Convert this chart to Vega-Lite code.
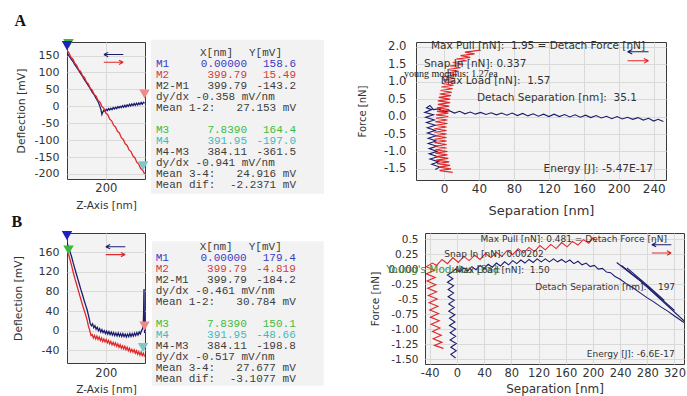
{
"$schema": "https://vega.github.io/schema/vega-lite/v6.json",
"background": "white",
"padding": {"left": 11, "top": 12, "right": 0, "bottom": 0},
"config": {
  "font": "DejaVu Sans",
  "view": {"stroke": "#3a3a3a", "strokeWidth": 1, "fill": "#f3f3f3"},
  "axis": {"domain": false, "ticks": false, "grid": true, "gridColor": "#d9d9d9", "gridWidth": 1, "labelColor": "#333", "titleColor": "#333", "titleFontWeight": "normal", "labelFont": "DejaVu Sans", "titleFont": "DejaVu Sans", "labelOverlap": false, "labelBound": false}
},
"datasets": {
  "defA": [
    {"s":"b","x":0,"y":158},{"s":"b","x":10,"y":150},{"s":"b","x":20,"y":141},{"s":"b","x":30,"y":133},{"s":"b","x":40,"y":123},{"s":"b","x":50,"y":115},{"s":"b","x":60,"y":106},{"s":"b","x":70,"y":97},{"s":"b","x":80,"y":88},{"s":"b","x":90,"y":79},{"s":"b","x":100,"y":70},{"s":"b","x":110,"y":61},{"s":"b","x":120,"y":52},{"s":"b","x":130,"y":42},{"s":"b","x":140,"y":34},{"s":"b","x":150,"y":23},{"s":"b","x":160,"y":14},{"s":"b","x":168,"y":2},{"s":"b","x":175,"y":-10},{"s":"b","x":180,"y":-24},{"s":"b","x":184,"y":-18},{"s":"b","x":190,"y":-12},{"s":"b","x":196,"y":-15},{"s":"b","x":202,"y":-9},{"s":"b","x":208,"y":-13},{"s":"b","x":214,"y":-7},{"s":"b","x":220,"y":-11},{"s":"b","x":226,"y":-6},{"s":"b","x":232,"y":-10},{"s":"b","x":238,"y":-4},{"s":"b","x":244,"y":-8},{"s":"b","x":250,"y":-3},{"s":"b","x":256,"y":-7},{"s":"b","x":262,"y":-1},{"s":"b","x":268,"y":-5},{"s":"b","x":274,"y":0},{"s":"b","x":280,"y":-4},{"s":"b","x":286,"y":2},{"s":"b","x":292,"y":-3},{"s":"b","x":298,"y":3},{"s":"b","x":304,"y":-2},{"s":"b","x":310,"y":4},{"s":"b","x":316,"y":0},{"s":"b","x":322,"y":6},{"s":"b","x":328,"y":1},{"s":"b","x":334,"y":7},{"s":"b","x":340,"y":2},{"s":"b","x":346,"y":8},{"s":"b","x":352,"y":3},{"s":"b","x":358,"y":9},{"s":"b","x":364,"y":4},{"s":"b","x":370,"y":10},{"s":"b","x":376,"y":5},{"s":"b","x":382,"y":11},{"s":"b","x":388,"y":6},{"s":"b","x":394,"y":12},{"s":"b","x":400,"y":9},
    {"s":"r","x":0,"y":165},{"s":"r","x":10,"y":158},{"s":"r","x":20,"y":145},{"s":"r","x":30,"y":140},{"s":"r","x":40,"y":127},{"s":"r","x":50,"y":121},{"s":"r","x":60,"y":108},{"s":"r","x":70,"y":103},{"s":"r","x":80,"y":90},{"s":"r","x":90,"y":85},{"s":"r","x":100,"y":72},{"s":"r","x":110,"y":66},{"s":"r","x":120,"y":53},{"s":"r","x":130,"y":48},{"s":"r","x":140,"y":35},{"s":"r","x":150,"y":30},{"s":"r","x":160,"y":17},{"s":"r","x":170,"y":12},{"s":"r","x":180,"y":-1},{"s":"r","x":190,"y":-6},{"s":"r","x":200,"y":-20},{"s":"r","x":210,"y":-25},{"s":"r","x":220,"y":-38},{"s":"r","x":230,"y":-43},{"s":"r","x":240,"y":-56},{"s":"r","x":250,"y":-61},{"s":"r","x":260,"y":-74},{"s":"r","x":270,"y":-79},{"s":"r","x":280,"y":-93},{"s":"r","x":290,"y":-98},{"s":"r","x":300,"y":-111},{"s":"r","x":310,"y":-116},{"s":"r","x":320,"y":-129},{"s":"r","x":330,"y":-134},{"s":"r","x":340,"y":-147},{"s":"r","x":350,"y":-152},{"s":"r","x":360,"y":-166},{"s":"r","x":370,"y":-171},{"s":"r","x":380,"y":-184},{"s":"r","x":390,"y":-189},{"s":"r","x":400,"y":-200}
  ],
  "defB": [
    {"s":"b","x":0,"y":179},{"s":"b","x":8,"y":170},{"s":"b","x":16,"y":160},{"s":"b","x":24,"y":150},{"s":"b","x":32,"y":138},{"s":"b","x":40,"y":127},{"s":"b","x":48,"y":116},{"s":"b","x":56,"y":105},{"s":"b","x":64,"y":94},{"s":"b","x":72,"y":83},{"s":"b","x":80,"y":73},{"s":"b","x":88,"y":62},{"s":"b","x":96,"y":52},{"s":"b","x":104,"y":42},{"s":"b","x":110,"y":32},{"s":"b","x":116,"y":22},{"s":"b","x":120,"y":14},{"s":"b","x":126,"y":10},{"s":"b","x":132,"y":14},{"s":"b","x":138,"y":6},{"s":"b","x":144,"y":10},{"s":"b","x":150,"y":3},{"s":"b","x":156,"y":7},{"s":"b","x":162,"y":0},{"s":"b","x":168,"y":4},{"s":"b","x":174,"y":-3},{"s":"b","x":180,"y":2},{"s":"b","x":186,"y":-4},{"s":"b","x":192,"y":0},{"s":"b","x":198,"y":-6},{"s":"b","x":204,"y":-1},{"s":"b","x":210,"y":-7},{"s":"b","x":216,"y":-2},{"s":"b","x":222,"y":-8},{"s":"b","x":228,"y":-3},{"s":"b","x":234,"y":-9},{"s":"b","x":240,"y":-4},{"s":"b","x":246,"y":-10},{"s":"b","x":252,"y":-5},{"s":"b","x":258,"y":-11},{"s":"b","x":264,"y":-5},{"s":"b","x":270,"y":-11},{"s":"b","x":276,"y":-6},{"s":"b","x":282,"y":-12},{"s":"b","x":288,"y":-6},{"s":"b","x":294,"y":-12},{"s":"b","x":300,"y":-7},{"s":"b","x":306,"y":-13},{"s":"b","x":312,"y":-7},{"s":"b","x":318,"y":-12},{"s":"b","x":324,"y":-6},{"s":"b","x":330,"y":-12},{"s":"b","x":336,"y":-6},{"s":"b","x":342,"y":-11},{"s":"b","x":348,"y":-5},{"s":"b","x":354,"y":-10},{"s":"b","x":360,"y":-4},{"s":"b","x":366,"y":-9},{"s":"b","x":372,"y":-3},{"s":"b","x":378,"y":-7},{"s":"b","x":384,"y":0},{"s":"b","x":390,"y":4},{"s":"b","x":393,"y":12},{"s":"b","x":395,"y":40},{"s":"b","x":396,"y":70},{"s":"b","x":397,"y":85},{"s":"b","x":398,"y":40},{"s":"b","x":400,"y":-5},
    {"s":"r","x":0,"y":168},{"s":"r","x":8,"y":156},{"s":"r","x":16,"y":144},{"s":"r","x":24,"y":132},{"s":"r","x":32,"y":119},{"s":"r","x":40,"y":107},{"s":"r","x":48,"y":96},{"s":"r","x":56,"y":85},{"s":"r","x":64,"y":74},{"s":"r","x":72,"y":63},{"s":"r","x":80,"y":52},{"s":"r","x":88,"y":42},{"s":"r","x":96,"y":32},{"s":"r","x":104,"y":21},{"s":"r","x":110,"y":10},{"s":"r","x":116,"y":2},{"s":"r","x":120,"y":-4},{"s":"r","x":124,"y":-10},{"s":"r","x":130,"y":-8},{"s":"r","x":136,"y":-15},{"s":"r","x":142,"y":-10},{"s":"r","x":148,"y":-17},{"s":"r","x":154,"y":-11},{"s":"r","x":160,"y":-18},{"s":"r","x":166,"y":-13},{"s":"r","x":172,"y":-20},{"s":"r","x":178,"y":-15},{"s":"r","x":184,"y":-22},{"s":"r","x":190,"y":-17},{"s":"r","x":196,"y":-23},{"s":"r","x":202,"y":-18},{"s":"r","x":208,"y":-25},{"s":"r","x":214,"y":-20},{"s":"r","x":220,"y":-27},{"s":"r","x":226,"y":-22},{"s":"r","x":232,"y":-29},{"s":"r","x":238,"y":-24},{"s":"r","x":244,"y":-30},{"s":"r","x":250,"y":-25},{"s":"r","x":256,"y":-32},{"s":"r","x":262,"y":-27},{"s":"r","x":268,"y":-34},{"s":"r","x":274,"y":-29},{"s":"r","x":280,"y":-36},{"s":"r","x":286,"y":-31},{"s":"r","x":292,"y":-37},{"s":"r","x":298,"y":-32},{"s":"r","x":304,"y":-39},{"s":"r","x":310,"y":-34},{"s":"r","x":316,"y":-41},{"s":"r","x":322,"y":-36},{"s":"r","x":328,"y":-43},{"s":"r","x":334,"y":-38},{"s":"r","x":340,"y":-44},{"s":"r","x":346,"y":-39},{"s":"r","x":352,"y":-46},{"s":"r","x":358,"y":-41},{"s":"r","x":364,"y":-48},{"s":"r","x":370,"y":-43},{"s":"r","x":376,"y":-50},{"s":"r","x":382,"y":-44},{"s":"r","x":388,"y":-51},{"s":"r","x":394,"y":-46},{"s":"r","x":400,"y":-53}
  ],
  "mkA": [
    {"m":"M3","x":7.839,"y":164.4},{"m":"M4","x":391.95,"y":-197.0},{"m":"M2","x":399.79,"y":15.49},{"m":"M1","x":0,"y":158.6}
  ],
  "mkB": [
    {"m":"M3","x":7.839,"y":150.1},{"m":"M4","x":391.95,"y":-48.66},{"m":"M2","x":399.79,"y":-4.819},{"m":"M1","x":0,"y":179.4}
  ],
  "tabA": [
    {"line":0,"kind":"head","label":"","xv":"X[nm]","yv":"Y[mV]"},
    {"line":1,"kind":"M1","label":"M1","xv":"0.00000","yv":"158.6"},
    {"line":2,"kind":"M2","label":"M2","xv":"399.79","yv":"15.49"},
    {"line":3,"kind":"other","label":"M2-M1","xv":"399.79","yv":"-143.2"},
    {"line":4,"kind":"other","label":"dy/dx -0.358 mV/nm","xv":"","yv":""},
    {"line":5,"kind":"other","label":"Mean 1-2:","xv":"","yv":"27.153 mV"},
    {"line":7,"kind":"M3","label":"M3","xv":"7.8390","yv":"164.4"},
    {"line":8,"kind":"M4","label":"M4","xv":"391.95","yv":"-197.0"},
    {"line":9,"kind":"other","label":"M4-M3","xv":"384.11","yv":"-361.5"},
    {"line":10,"kind":"other","label":"dy/dx -0.941 mV/nm","xv":"","yv":""},
    {"line":11,"kind":"other","label":"Mean 3-4:","xv":"","yv":"24.916 mV"},
    {"line":12,"kind":"other","label":"Mean dif:","xv":"","yv":"-2.2371 mV"}
  ],
  "tabB": [
    {"line":0,"kind":"head","label":"","xv":"X[nm]","yv":"Y[mV]"},
    {"line":1,"kind":"M1","label":"M1","xv":"0.00000","yv":"179.4"},
    {"line":2,"kind":"M2","label":"M2","xv":"399.79","yv":"-4.819"},
    {"line":3,"kind":"other","label":"M2-M1","xv":"399.79","yv":"-184.2"},
    {"line":4,"kind":"other","label":"dy/dx -0.461 mV/nm","xv":"","yv":""},
    {"line":5,"kind":"other","label":"Mean 1-2:","xv":"","yv":"30.784 mV"},
    {"line":7,"kind":"M3","label":"M3","xv":"7.8390","yv":"150.1"},
    {"line":8,"kind":"M4","label":"M4","xv":"391.95","yv":"-48.66"},
    {"line":9,"kind":"other","label":"M4-M3","xv":"384.11","yv":"-198.8"},
    {"line":10,"kind":"other","label":"dy/dx -0.517 mV/nm","xv":"","yv":""},
    {"line":11,"kind":"other","label":"Mean 3-4:","xv":"","yv":"27.677 mV"},
    {"line":12,"kind":"other","label":"Mean dif:","xv":"","yv":"-3.1077 mV"}
  ],
  "forA": [
    {"s":"b","x":251,"y":-0.14},{"s":"b","x":245,"y":-0.08},{"s":"b","x":240,"y":-0.13},{"s":"b","x":234,"y":-0.05},{"s":"b","x":228,"y":-0.10},{"s":"b","x":222,"y":-0.03},{"s":"b","x":216,"y":-0.08},{"s":"b","x":210,"y":-0.02},{"s":"b","x":204,"y":-0.07},{"s":"b","x":198,"y":0.00},{"s":"b","x":192,"y":-0.06},{"s":"b","x":186,"y":0.01},{"s":"b","x":180,"y":-0.04},{"s":"b","x":174,"y":0.03},{"s":"b","x":168,"y":-0.03},{"s":"b","x":162,"y":0.04},{"s":"b","x":156,"y":-0.02},{"s":"b","x":150,"y":0.05},{"s":"b","x":144,"y":-0.01},{"s":"b","x":138,"y":0.06},{"s":"b","x":132,"y":0.00},{"s":"b","x":126,"y":0.07},{"s":"b","x":120,"y":0.00},{"s":"b","x":114,"y":0.07},{"s":"b","x":108,"y":0.01},{"s":"b","x":102,"y":0.08},{"s":"b","x":96,"y":0.02},{"s":"b","x":90,"y":0.09},{"s":"b","x":84,"y":0.03},{"s":"b","x":78,"y":0.10},{"s":"b","x":72,"y":0.04},{"s":"b","x":66,"y":0.10},{"s":"b","x":60,"y":0.05},{"s":"b","x":54,"y":0.11},{"s":"b","x":48,"y":0.06},{"s":"b","x":42,"y":0.12},{"s":"b","x":36,"y":0.07},{"s":"b","x":30,"y":0.13},{"s":"b","x":24,"y":0.08},{"s":"b","x":18,"y":0.15},{"s":"b","x":12,"y":0.10},{"s":"b","x":6,"y":0.17},{"s":"b","x":0,"y":0.13},{"s":"b","x":-6,"y":0.22},{"s":"b","x":-12,"y":0.20},{"s":"b","x":-16,"y":0.32},{"s":"b","x":-20,"y":0.25},{"s":"b","x":-14,"y":0.20},{"s":"b","x":-22,"y":0.12},{"s":"b","x":-12,"y":0.05},{"s":"b","x":-21,"y":-0.02},{"s":"b","x":-11,"y":-0.10},{"s":"b","x":-20,"y":-0.17},{"s":"b","x":-10,"y":-0.25},{"s":"b","x":-19,"y":-0.32},{"s":"b","x":-10,"y":-0.40},{"s":"b","x":-19,"y":-0.47},{"s":"b","x":-9,"y":-0.55},{"s":"b","x":-18,"y":-0.62},{"s":"b","x":-9,"y":-0.70},{"s":"b","x":-18,"y":-0.77},{"s":"b","x":-8,"y":-0.85},{"s":"b","x":-17,"y":-0.92},{"s":"b","x":-8,"y":-1.00},{"s":"b","x":-17,"y":-1.07},{"s":"b","x":-7,"y":-1.15},{"s":"b","x":-16,"y":-1.22},{"s":"b","x":-6,"y":-1.30},{"s":"b","x":-14,"y":-1.37},{"s":"b","x":-5,"y":-1.45},{"s":"b","x":-10,"y":-1.52},
    {"s":"r","x":10,"y":-1.6},{"s":"r","x":-5,"y":-1.55},{"s":"r","x":8,"y":-1.5},{"s":"r","x":-6,"y":-1.45},{"s":"r","x":7,"y":-1.4},{"s":"r","x":-8,"y":-1.35},{"s":"r","x":6,"y":-1.3},{"s":"r","x":-9,"y":-1.25},{"s":"r","x":5,"y":-1.2},{"s":"r","x":-9,"y":-1.15},{"s":"r","x":4,"y":-1.1},{"s":"r","x":-10,"y":-1.05},{"s":"r","x":4,"y":-1.0},{"s":"r","x":-10,"y":-0.95},{"s":"r","x":3,"y":-0.9},{"s":"r","x":-11,"y":-0.85},{"s":"r","x":3,"y":-0.8},{"s":"r","x":-11,"y":-0.75},{"s":"r","x":3,"y":-0.7},{"s":"r","x":-11,"y":-0.65},{"s":"r","x":3,"y":-0.6},{"s":"r","x":-11,"y":-0.55},{"s":"r","x":3,"y":-0.5},{"s":"r","x":-11,"y":-0.45},{"s":"r","x":3,"y":-0.4},{"s":"r","x":-11,"y":-0.35},{"s":"r","x":3,"y":-0.3},{"s":"r","x":-10,"y":-0.25},{"s":"r","x":4,"y":-0.2},{"s":"r","x":-10,"y":-0.15},{"s":"r","x":4,"y":-0.1},{"s":"r","x":-9,"y":-0.05},{"s":"r","x":5,"y":0.0},{"s":"r","x":-9,"y":0.05},{"s":"r","x":5,"y":0.1},{"s":"r","x":-8,"y":0.15},{"s":"r","x":6,"y":0.2},{"s":"r","x":-8,"y":0.25},{"s":"r","x":6,"y":0.3},{"s":"r","x":-7,"y":0.35},{"s":"r","x":7,"y":0.4},{"s":"r","x":-7,"y":0.45},{"s":"r","x":7,"y":0.5},{"s":"r","x":-6,"y":0.55},{"s":"r","x":8,"y":0.6},{"s":"r","x":-5,"y":0.65},{"s":"r","x":9,"y":0.7},{"s":"r","x":-4,"y":0.75},{"s":"r","x":10,"y":0.8},{"s":"r","x":-3,"y":0.85},{"s":"r","x":11,"y":0.9},{"s":"r","x":-2,"y":0.95},{"s":"r","x":12,"y":1.0},{"s":"r","x":-1,"y":1.05},{"s":"r","x":13,"y":1.1},{"s":"r","x":0,"y":1.15},{"s":"r","x":15,"y":1.2},{"s":"r","x":2,"y":1.25},{"s":"r","x":17,"y":1.3},{"s":"r","x":4,"y":1.35},{"s":"r","x":19,"y":1.4},{"s":"r","x":7,"y":1.45},{"s":"r","x":22,"y":1.5},{"s":"r","x":10,"y":1.55},{"s":"r","x":26,"y":1.6},{"s":"r","x":14,"y":1.65},{"s":"r","x":30,"y":1.7},{"s":"r","x":19,"y":1.75},{"s":"r","x":35,"y":1.8},{"s":"r","x":24,"y":1.85},{"s":"r","x":40,"y":1.9}
  ],
  "forB": [
    {"s":"b","x":-2,"y":-1.48},{"s":"b","x":-9,"y":-1.42},{"s":"b","x":-1,"y":-1.36},{"s":"b","x":-9,"y":-1.30},{"s":"b","x":-1,"y":-1.24},{"s":"b","x":-10,"y":-1.18},{"s":"b","x":-2,"y":-1.12},{"s":"b","x":-10,"y":-1.06},{"s":"b","x":-2,"y":-1.00},{"s":"b","x":-11,"y":-0.94},{"s":"b","x":-3,"y":-0.88},{"s":"b","x":-11,"y":-0.82},{"s":"b","x":-3,"y":-0.76},{"s":"b","x":-12,"y":-0.70},{"s":"b","x":-4,"y":-0.64},{"s":"b","x":-12,"y":-0.58},{"s":"b","x":-4,"y":-0.52},{"s":"b","x":-13,"y":-0.46},{"s":"b","x":-5,"y":-0.40},{"s":"b","x":-13,"y":-0.34},{"s":"b","x":-5,"y":-0.28},{"s":"b","x":-14,"y":-0.22},{"s":"b","x":-6,"y":-0.16},{"s":"b","x":-14,"y":-0.10},{"s":"b","x":-6,"y":-0.04},{"s":"b","x":-2,"y":0.00},{"s":"b","x":4,"y":-0.05},{"s":"b","x":10,"y":0.02},{"s":"b","x":16,"y":-0.03},{"s":"b","x":22,"y":0.04},{"s":"b","x":28,"y":-0.01},{"s":"b","x":34,"y":0.06},{"s":"b","x":40,"y":0.01},{"s":"b","x":46,"y":0.08},{"s":"b","x":52,"y":0.03},{"s":"b","x":58,"y":0.10},{"s":"b","x":64,"y":0.05},{"s":"b","x":70,"y":0.12},{"s":"b","x":76,"y":0.07},{"s":"b","x":82,"y":0.14},{"s":"b","x":88,"y":0.09},{"s":"b","x":94,"y":0.15},{"s":"b","x":100,"y":0.10},{"s":"b","x":106,"y":0.16},{"s":"b","x":112,"y":0.11},{"s":"b","x":118,"y":0.17},{"s":"b","x":124,"y":0.12},{"s":"b","x":130,"y":0.17},{"s":"b","x":136,"y":0.12},{"s":"b","x":142,"y":0.17},{"s":"b","x":148,"y":0.12},{"s":"b","x":154,"y":0.16},{"s":"b","x":160,"y":0.11},{"s":"b","x":166,"y":0.15},{"s":"b","x":172,"y":0.09},{"s":"b","x":178,"y":0.13},{"s":"b","x":184,"y":0.07},{"s":"b","x":190,"y":0.10},{"s":"b","x":196,"y":0.04},{"s":"b","x":202,"y":0.06},{"s":"b","x":208,"y":0.00},{"s":"b","x":214,"y":0.01},{"s":"b","x":220,"y":-0.05},{"s":"b","x":226,"y":-0.06},{"s":"b","x":232,"y":-0.12},{"s":"b","x":240,"y":-0.17},{"s":"b","x":250,"y":-0.25},{"s":"b","x":260,"y":-0.32},{"s":"b","x":270,"y":-0.40},{"s":"b","x":280,"y":-0.48},{"s":"b","x":290,"y":-0.55},{"s":"b","x":300,"y":-0.63},{"s":"b","x":310,"y":-0.70},{"s":"b","x":320,"y":-0.78},{"s":"b","x":334,"y":-0.89},
    {"s":"b2","x":235,"y":0.11},{"s":"b2","x":270,"y":-0.20},{"s":"b2","x":334,"y":-0.86},
    {"s":"b3","x":242,"y":0.06},{"s":"b3","x":276,"y":-0.25},{"s":"b3","x":320,"y":-0.69},
    {"s":"b4","x":250,"y":0.02},{"s":"b4","x":282,"y":-0.29},{"s":"b4","x":305,"y":-0.52},
    {"s":"r","x":-20,"y":-1.32},{"s":"r","x":-33,"y":-1.27},{"s":"r","x":-22,"y":-1.22},{"s":"r","x":-35,"y":-1.16},{"s":"r","x":-23,"y":-1.10},{"s":"r","x":-36,"y":-1.04},{"s":"r","x":-25,"y":-0.98},{"s":"r","x":-38,"y":-0.92},{"s":"r","x":-26,"y":-0.86},{"s":"r","x":-39,"y":-0.80},{"s":"r","x":-27,"y":-0.74},{"s":"r","x":-40,"y":-0.68},{"s":"r","x":-28,"y":-0.62},{"s":"r","x":-41,"y":-0.56},{"s":"r","x":-29,"y":-0.50},{"s":"r","x":-42,"y":-0.44},{"s":"r","x":-30,"y":-0.38},{"s":"r","x":-43,"y":-0.32},{"s":"r","x":-31,"y":-0.26},{"s":"r","x":-44,"y":-0.20},{"s":"r","x":-32,"y":-0.14},{"s":"r","x":-45,"y":-0.08},{"s":"r","x":-33,"y":-0.02},{"s":"r","x":-45,"y":0.04},{"s":"r","x":-36,"y":0.10},{"s":"r","x":-30,"y":0.06},{"s":"r","x":-22,"y":0.16},{"s":"r","x":-14,"y":0.09},{"s":"r","x":-6,"y":0.19},{"s":"r","x":2,"y":0.11},{"s":"r","x":10,"y":0.21},{"s":"r","x":18,"y":0.14},{"s":"r","x":26,"y":0.23},{"s":"r","x":34,"y":0.16},{"s":"r","x":42,"y":0.26},{"s":"r","x":50,"y":0.19},{"s":"r","x":58,"y":0.28},{"s":"r","x":66,"y":0.21},{"s":"r","x":74,"y":0.31},{"s":"r","x":82,"y":0.24},{"s":"r","x":90,"y":0.34},{"s":"r","x":98,"y":0.27},{"s":"r","x":106,"y":0.36},{"s":"r","x":114,"y":0.29},{"s":"r","x":122,"y":0.39},{"s":"r","x":130,"y":0.32},{"s":"r","x":138,"y":0.41},{"s":"r","x":146,"y":0.34},{"s":"r","x":154,"y":0.44},{"s":"r","x":162,"y":0.37},{"s":"r","x":170,"y":0.46},{"s":"r","x":178,"y":0.40},{"s":"r","x":186,"y":0.49},{"s":"r","x":194,"y":0.43},{"s":"r","x":200,"y":0.52},{"s":"r","x":205,"y":0.47}
  ]
},
"spacing": -5,
"vconcat": [
  {
    "title": {"text": "A", "anchor": "start", "frame": "bounds", "font": "Liberation Serif", "fontSize": 16, "fontWeight": "bold", "color": "#111", "offset": 10},
    "bounds": "flush",
    "spacing": 6,
    "hconcat": [
      {
        "width": 78, "height": 137,
        "layer": [
          {"data": {"name": "defA"}, "transform": [{"filter": "datum.s=='b'"}], "mark": {"type": "line", "color": "#1c1c6e", "strokeWidth": 1.3, "clip": true}, "encoding": {
            "x": {"field": "x", "type": "quantitative", "scale": {"domain": [0, 402], "nice": false, "zero": false}, "axis": {"values": [200], "title": "Z-Axis [nm]", "labelFontSize": 11.5, "labelPadding": 3, "titleFontSize": 10.5, "titlePadding": 7}},
            "y": {"field": "y", "type": "quantitative", "scale": {"domain": [-215, 190], "nice": false, "zero": false}, "axis": {"values": [-200, -150, -100, -50, 0, 50, 100, 150], "labelExpr": "''+datum.value", "title": "Deflection [mV]", "labelFontSize": 11, "labelPadding": 8, "titleFontSize": 10.8, "titlePadding": 8}},
            "order": {"value": null}}},
          {"data": {"name": "defA"}, "transform": [{"filter": "datum.s=='r'"}], "mark": {"type": "line", "color": "#e0282a", "strokeWidth": 1.3, "clip": true}, "encoding": {
            "x": {"field": "x", "type": "quantitative", "scale": {"domain": [0, 402], "nice": false, "zero": false}, "axis": {"values": [200], "title": "Z-Axis [nm]", "labelFontSize": 11.5, "labelPadding": 3, "titleFontSize": 10.5, "titlePadding": 7}},
            "y": {"field": "y", "type": "quantitative", "scale": {"domain": [-215, 190], "nice": false, "zero": false}, "axis": {"values": [-200, -150, -100, -50, 0, 50, 100, 150], "labelExpr": "''+datum.value", "title": "Deflection [mV]", "labelFontSize": 11, "labelPadding": 8, "titleFontSize": 10.8, "titlePadding": 8}},
            "order": {"value": null}}},
          {"data": {"name": "mkA"}, "mark": {"type": "point", "shape": "triangle-down", "filled": true, "size": 110, "yOffset": -7, "opacity": 1}, "encoding": {
            "x": {"field": "x", "type": "quantitative", "scale": {"domain": [0, 402], "nice": false, "zero": false}, "axis": {"values": [200], "title": "Z-Axis [nm]", "labelFontSize": 11.5, "labelPadding": 3, "titleFontSize": 10.5, "titlePadding": 7}},
            "y": {"field": "y", "type": "quantitative", "scale": {"domain": [-215, 190], "nice": false, "zero": false}, "axis": {"values": [-200, -150, -100, -50, 0, 50, 100, 150], "labelExpr": "''+datum.value", "title": "Deflection [mV]", "labelFontSize": 11, "labelPadding": 8, "titleFontSize": 10.8, "titlePadding": 8}},
            "fill": {"field": "m", "type": "nominal", "scale": {"domain": ["M1", "M2", "M3", "M4"], "range": ["#1f1fc0", "#f08a8a", "#3cb83c", "#7cc8c8"]}, "legend": null}}},
          {"data": {"values": [{"a": "dA-left"}]}, "mark": {"type": "point", "shape": "M1,0L-1,0M-1,0L-0.55,-0.22M-1,0L-0.55,0.22", "size": 380, "filled": false, "strokeWidth": 1.1, "color": "#1c1c6e", "opacity": 1}, "encoding": {
            "x": {"datum": 240, "type": "quantitative", "scale": {"domain": [0, 402], "nice": false, "zero": false}, "axis": {"values": [200], "title": "Z-Axis [nm]", "labelFontSize": 11.5, "labelPadding": 3, "titleFontSize": 10.5, "titlePadding": 7}},
            "y": {"datum": 153, "type": "quantitative", "scale": {"domain": [-215, 190], "nice": false, "zero": false}, "axis": {"values": [-200, -150, -100, -50, 0, 50, 100, 150], "labelExpr": "''+datum.value", "title": "Deflection [mV]", "labelFontSize": 11, "labelPadding": 8, "titleFontSize": 10.8, "titlePadding": 8}}}},
          {"data": {"values": [{"a": "dA-right"}]}, "mark": {"type": "point", "shape": "M-1,0L1,0M1,0L0.55,-0.22M1,0L0.55,0.22", "size": 380, "filled": false, "strokeWidth": 1.1, "color": "#e0282a", "opacity": 1}, "encoding": {
            "x": {"datum": 240, "type": "quantitative", "scale": {"domain": [0, 402], "nice": false, "zero": false}, "axis": {"values": [200], "title": "Z-Axis [nm]", "labelFontSize": 11.5, "labelPadding": 3, "titleFontSize": 10.5, "titlePadding": 7}},
            "y": {"datum": 130, "type": "quantitative", "scale": {"domain": [-215, 190], "nice": false, "zero": false}, "axis": {"values": [-200, -150, -100, -50, 0, 50, 100, 150], "labelExpr": "''+datum.value", "title": "Deflection [mV]", "labelFontSize": 11, "labelPadding": 8, "titleFontSize": 10.8, "titlePadding": 8}}}}
        ]
      },
      {
        "width": 259, "height": 159.5,
        "view": {"stroke": "transparent", "fill": "white"},
        "layer": [
          {"data": {"values": [{"box": "A"}]}, "mark": {"type": "rect", "fill": "#f2f2f2"}, "encoding": {
            "x": {"datum": -0.714, "type": "quantitative", "scale": {"domain": [-0.714, 36.286], "nice": false, "zero": false}, "axis": null},
            "x2": {"datum": 24},
            "y": {"datum": -1.2, "type": "quantitative", "scale": {"domain": [-1, 13.5], "nice": false, "zero": false, "reverse": true}, "axis": null},
            "y2": {"datum": 12.8}}},
          {"data": {"name": "tabA"}, "transform": [{"filter": "datum.kind!='head'"}], "mark": {"type": "text", "align": "left", "baseline": "middle", "font": "Liberation Mono", "fontSize": 11},
           "encoding": {"x": {"datum": 0, "type": "quantitative", "axis": null}, "y": {"field": "line", "type": "quantitative", "axis": null}, "text": {"field": "label"}, "color": {"field": "kind", "type": "nominal", "scale": {"domain": ["M1", "M2", "M3", "M4", "other", "head"], "range": ["#3a3ac4", "#d23c3c", "#3cbc3c", "#3cbcbc", "#3c3c3c", "#3c3c3c"]}, "legend": null}}},
          {"data": {"name": "tabA"}, "transform": [{"filter": "datum.kind!='head' && datum.xv!=''"}], "mark": {"type": "text", "align": "right", "baseline": "middle", "font": "Liberation Mono", "fontSize": 11},
           "encoding": {"x": {"datum": 13, "type": "quantitative", "axis": null}, "y": {"field": "line", "type": "quantitative", "axis": null}, "text": {"field": "xv"}, "color": {"field": "kind", "type": "nominal", "legend": null}}},
          {"data": {"name": "tabA"}, "transform": [{"filter": "datum.kind!='head' && datum.yv!=''"}], "mark": {"type": "text", "align": "right", "baseline": "middle", "font": "Liberation Mono", "fontSize": 11},
           "encoding": {"x": {"datum": 20, "type": "quantitative", "axis": null}, "y": {"field": "line", "type": "quantitative", "axis": null}, "text": {"field": "yv"}, "color": {"field": "kind", "type": "nominal", "legend": null}}},
          {"data": {"name": "tabA"}, "transform": [{"filter": "datum.kind=='head'"}], "mark": {"type": "text", "align": "right", "baseline": "middle", "font": "Liberation Mono", "fontSize": 11},
           "encoding": {"x": {"datum": 11, "type": "quantitative", "axis": null}, "y": {"field": "line", "type": "quantitative", "axis": null}, "text": {"field": "xv"}, "color": {"field": "kind", "type": "nominal", "legend": null}}},
          {"data": {"name": "tabA"}, "transform": [{"filter": "datum.kind=='head'"}], "mark": {"type": "text", "align": "right", "baseline": "middle", "font": "Liberation Mono", "fontSize": 11},
           "encoding": {"x": {"datum": 18, "type": "quantitative", "axis": null}, "y": {"field": "line", "type": "quantitative", "axis": null}, "text": {"field": "yv"}, "color": {"field": "kind", "type": "nominal", "legend": null}}}
        ]
      },
      {
        "width": 250, "height": 138,
        "layer": [
          {"data": {"name": "forA"}, "transform": [{"filter": "datum.s=='b'"}], "mark": {"type": "line", "color": "#1c1c6e", "strokeWidth": 1.1, "clip": true}, "encoding": {
            "x": {"field": "x", "type": "quantitative", "scale": {"domain": [-32, 254], "nice": false, "zero": false}, "axis": {"values": [0, 40, 80, 120, 160, 200, 240], "labelExpr": "''+datum.value", "title": "Separation [nm]", "labelFontSize": 12, "labelPadding": 3, "titleFontSize": 13, "titlePadding": 10}},
            "y": {"field": "y", "type": "quantitative", "scale": {"domain": [-1.82, 2.14], "nice": false, "zero": false}, "axis": {"values": [-1.5, -1, -0.5, 0, 0.5, 1, 1.5, 2], "labelExpr": "(datum.value<0?'-':'')+format(abs(datum.value),'.1f')", "title": "Force [nN]", "labelFontSize": 11.6, "labelPadding": 10, "titleFontSize": 10, "titlePadding": 16}},
            "order": {"value": null}}},
          {"data": {"name": "forA"}, "transform": [{"filter": "datum.s=='r'"}], "mark": {"type": "line", "color": "#e0282a", "strokeWidth": 1.1, "clip": true}, "encoding": {
            "x": {"field": "x", "type": "quantitative", "scale": {"domain": [-32, 254], "nice": false, "zero": false}, "axis": {"values": [0, 40, 80, 120, 160, 200, 240], "labelExpr": "''+datum.value", "title": "Separation [nm]", "labelFontSize": 12, "labelPadding": 3, "titleFontSize": 13, "titlePadding": 10}},
            "y": {"field": "y", "type": "quantitative", "scale": {"domain": [-1.82, 2.14], "nice": false, "zero": false}, "axis": {"values": [-1.5, -1, -0.5, 0, 0.5, 1, 1.5, 2], "labelExpr": "(datum.value<0?'-':'')+format(abs(datum.value),'.1f')", "title": "Force [nN]", "labelFontSize": 11.6, "labelPadding": 10, "titleFontSize": 10, "titlePadding": 16}},
            "order": {"value": null}}},
          {"data": {"values": [{"t": "Max Pull [nN]:\u00a0 1.95 = Detach Force [nN]"}]}, "mark": {"type": "text", "align": "left", "baseline": "middle", "fontSize": 10.5, "color": "#333"}, "encoding": {
            "x": {"datum": -14.9, "type": "quantitative", "scale": {"domain": [-32, 254], "nice": false, "zero": false}, "axis": {"values": [0, 40, 80, 120, 160, 200, 240], "labelExpr": "''+datum.value", "title": "Separation [nm]", "labelFontSize": 12, "labelPadding": 3, "titleFontSize": 13, "titlePadding": 10}},
            "y": {"datum": 2.03, "type": "quantitative", "scale": {"domain": [-1.82, 2.14], "nice": false, "zero": false}, "axis": {"values": [-1.5, -1, -0.5, 0, 0.5, 1, 1.5, 2], "labelExpr": "(datum.value<0?'-':'')+format(abs(datum.value),'.1f')", "title": "Force [nN]", "labelFontSize": 11.6, "labelPadding": 10, "titleFontSize": 10, "titlePadding": 16}},
            "text": {"field": "t"}}},
          {"data": {"values": [{"t": "Snap In [nN]: 0.337"}]}, "mark": {"type": "text", "align": "left", "baseline": "middle", "fontSize": 10.5, "color": "#333"}, "encoding": {
            "x": {"datum": -22.9, "type": "quantitative", "scale": {"domain": [-32, 254], "nice": false, "zero": false}, "axis": {"values": [0, 40, 80, 120, 160, 200, 240], "labelExpr": "''+datum.value", "title": "Separation [nm]", "labelFontSize": 12, "labelPadding": 3, "titleFontSize": 13, "titlePadding": 10}},
            "y": {"datum": 1.51, "type": "quantitative", "scale": {"domain": [-1.82, 2.14], "nice": false, "zero": false}, "axis": {"values": [-1.5, -1, -0.5, 0, 0.5, 1, 1.5, 2], "labelExpr": "(datum.value<0?'-':'')+format(abs(datum.value),'.1f')", "title": "Force [nN]", "labelFontSize": 11.6, "labelPadding": 10, "titleFontSize": 10, "titlePadding": 16}},
            "text": {"field": "t"}}},
          {"data": {"values": [{"t": "young modulus: 1.27ea"}]}, "mark": {"type": "text", "align": "left", "baseline": "middle", "font": "Liberation Serif", "fontSize": 10, "color": "#222"}, "encoding": {
            "x": {"datum": -45.7, "type": "quantitative", "scale": {"domain": [-32, 254], "nice": false, "zero": false}, "axis": {"values": [0, 40, 80, 120, 160, 200, 240], "labelExpr": "''+datum.value", "title": "Separation [nm]", "labelFontSize": 12, "labelPadding": 3, "titleFontSize": 13, "titlePadding": 10}},
            "y": {"datum": 1.22, "type": "quantitative", "scale": {"domain": [-1.82, 2.14], "nice": false, "zero": false}, "axis": {"values": [-1.5, -1, -0.5, 0, 0.5, 1, 1.5, 2], "labelExpr": "(datum.value<0?'-':'')+format(abs(datum.value),'.1f')", "title": "Force [nN]", "labelFontSize": 11.6, "labelPadding": 10, "titleFontSize": 10, "titlePadding": 16}},
            "text": {"field": "t"}}},
          {"data": {"values": [{"t": "Max Load [nN]:\u00a0 1.57"}]}, "mark": {"type": "text", "align": "left", "baseline": "middle", "fontSize": 10.5, "color": "#333"}, "encoding": {
            "x": {"datum": -3.8, "type": "quantitative", "scale": {"domain": [-32, 254], "nice": false, "zero": false}, "axis": {"values": [0, 40, 80, 120, 160, 200, 240], "labelExpr": "''+datum.value", "title": "Separation [nm]", "labelFontSize": 12, "labelPadding": 3, "titleFontSize": 13, "titlePadding": 10}},
            "y": {"datum": 1.02, "type": "quantitative", "scale": {"domain": [-1.82, 2.14], "nice": false, "zero": false}, "axis": {"values": [-1.5, -1, -0.5, 0, 0.5, 1, 1.5, 2], "labelExpr": "(datum.value<0?'-':'')+format(abs(datum.value),'.1f')", "title": "Force [nN]", "labelFontSize": 11.6, "labelPadding": 10, "titleFontSize": 10, "titlePadding": 16}},
            "text": {"field": "t"}}},
          {"data": {"values": [{"t": "Detach Separation [nm]:\u00a0 35.1"}]}, "mark": {"type": "text", "align": "left", "baseline": "middle", "fontSize": 10.5, "color": "#333"}, "encoding": {
            "x": {"datum": 37.7, "type": "quantitative", "scale": {"domain": [-32, 254], "nice": false, "zero": false}, "axis": {"values": [0, 40, 80, 120, 160, 200, 240], "labelExpr": "''+datum.value", "title": "Separation [nm]", "labelFontSize": 12, "labelPadding": 3, "titleFontSize": 13, "titlePadding": 10}},
            "y": {"datum": 0.53, "type": "quantitative", "scale": {"domain": [-1.82, 2.14], "nice": false, "zero": false}, "axis": {"values": [-1.5, -1, -0.5, 0, 0.5, 1, 1.5, 2], "labelExpr": "(datum.value<0?'-':'')+format(abs(datum.value),'.1f')", "title": "Force [nN]", "labelFontSize": 11.6, "labelPadding": 10, "titleFontSize": 10, "titlePadding": 16}},
            "text": {"field": "t"}}},
          {"data": {"values": [{"t": "Energy [J]: -5.47E-17"}]}, "mark": {"type": "text", "align": "left", "baseline": "middle", "fontSize": 10.5, "color": "#333"}, "encoding": {
            "x": {"datum": 114, "type": "quantitative", "scale": {"domain": [-32, 254], "nice": false, "zero": false}, "axis": {"values": [0, 40, 80, 120, 160, 200, 240], "labelExpr": "''+datum.value", "title": "Separation [nm]", "labelFontSize": 12, "labelPadding": 3, "titleFontSize": 13, "titlePadding": 10}},
            "y": {"datum": -1.51, "type": "quantitative", "scale": {"domain": [-1.82, 2.14], "nice": false, "zero": false}, "axis": {"values": [-1.5, -1, -0.5, 0, 0.5, 1, 1.5, 2], "labelExpr": "(datum.value<0?'-':'')+format(abs(datum.value),'.1f')", "title": "Force [nN]", "labelFontSize": 11.6, "labelPadding": 10, "titleFontSize": 10, "titlePadding": 16}},
            "text": {"field": "t"}}},
          {"data": {"values": [{"a": "fA-left"}]}, "mark": {"type": "point", "shape": "M1,0L-1,0M-1,0L-0.55,-0.22M-1,0L-0.55,0.22", "size": 440, "filled": false, "strokeWidth": 1.1, "color": "#1c1c6e", "opacity": 1}, "encoding": {
            "x": {"datum": 222, "type": "quantitative", "scale": {"domain": [-32, 254], "nice": false, "zero": false}, "axis": {"values": [0, 40, 80, 120, 160, 200, 240], "labelExpr": "''+datum.value", "title": "Separation [nm]", "labelFontSize": 12, "labelPadding": 3, "titleFontSize": 13, "titlePadding": 10}},
            "y": {"datum": 1.86, "type": "quantitative", "scale": {"domain": [-1.82, 2.14], "nice": false, "zero": false}, "axis": {"values": [-1.5, -1, -0.5, 0, 0.5, 1, 1.5, 2], "labelExpr": "(datum.value<0?'-':'')+format(abs(datum.value),'.1f')", "title": "Force [nN]", "labelFontSize": 11.6, "labelPadding": 10, "titleFontSize": 10, "titlePadding": 16}}}},
          {"data": {"values": [{"a": "fA-right"}]}, "mark": {"type": "point", "shape": "M-1,0L1,0M1,0L0.55,-0.22M1,0L0.55,0.22", "size": 440, "filled": false, "strokeWidth": 1.1, "color": "#e0282a", "opacity": 1}, "encoding": {
            "x": {"datum": 222, "type": "quantitative", "scale": {"domain": [-32, 254], "nice": false, "zero": false}, "axis": {"values": [0, 40, 80, 120, 160, 200, 240], "labelExpr": "''+datum.value", "title": "Separation [nm]", "labelFontSize": 12, "labelPadding": 3, "titleFontSize": 13, "titlePadding": 10}},
            "y": {"datum": 1.6, "type": "quantitative", "scale": {"domain": [-1.82, 2.14], "nice": false, "zero": false}, "axis": {"values": [-1.5, -1, -0.5, 0, 0.5, 1, 1.5, 2], "labelExpr": "(datum.value<0?'-':'')+format(abs(datum.value),'.1f')", "title": "Force [nN]", "labelFontSize": 11.6, "labelPadding": 10, "titleFontSize": 10, "titlePadding": 16}}}}
        ]
      }
    ]
  },
  {
    "title": {"text": "B", "anchor": "start", "frame": "bounds", "font": "Liberation Serif", "fontSize": 16, "fontWeight": "bold", "color": "#111", "offset": 1},
    "bounds": "flush",
    "spacing": 6,
    "hconcat": [
      {
        "width": 78, "height": 130,
        "layer": [
          {"data": {"name": "defB"}, "transform": [{"filter": "datum.s=='r'"}], "mark": {"type": "line", "color": "#e0282a", "strokeWidth": 1.3, "clip": true}, "encoding": {
            "x": {"field": "x", "type": "quantitative", "scale": {"domain": [0, 402], "nice": false, "zero": false}, "axis": {"values": [200], "title": "Z-Axis [nm]", "labelFontSize": 11.5, "labelPadding": 4, "titleFontSize": 10.5, "titlePadding": 6}},
            "y": {"field": "y", "type": "quantitative", "scale": {"domain": [-66, 199], "nice": false, "zero": false}, "axis": {"values": [-40, 0, 40, 80, 120, 160], "labelExpr": "''+datum.value", "title": "Deflection [mV]", "labelFontSize": 11, "labelPadding": 8, "titleFontSize": 10.8, "titlePadding": 15}},
            "order": {"value": null}}},
          {"data": {"name": "defB"}, "transform": [{"filter": "datum.s=='b'"}], "mark": {"type": "line", "color": "#1c1c6e", "strokeWidth": 1.3, "clip": true}, "encoding": {
            "x": {"field": "x", "type": "quantitative", "scale": {"domain": [0, 402], "nice": false, "zero": false}, "axis": {"values": [200], "title": "Z-Axis [nm]", "labelFontSize": 11.5, "labelPadding": 4, "titleFontSize": 10.5, "titlePadding": 6}},
            "y": {"field": "y", "type": "quantitative", "scale": {"domain": [-66, 199], "nice": false, "zero": false}, "axis": {"values": [-40, 0, 40, 80, 120, 160], "labelExpr": "''+datum.value", "title": "Deflection [mV]", "labelFontSize": 11, "labelPadding": 8, "titleFontSize": 10.8, "titlePadding": 15}},
            "order": {"value": null}}},
          {"data": {"name": "mkB"}, "mark": {"type": "point", "shape": "triangle-down", "filled": true, "size": 110, "yOffset": -7, "opacity": 1}, "encoding": {
            "x": {"field": "x", "type": "quantitative", "scale": {"domain": [0, 402], "nice": false, "zero": false}, "axis": {"values": [200], "title": "Z-Axis [nm]", "labelFontSize": 11.5, "labelPadding": 4, "titleFontSize": 10.5, "titlePadding": 6}},
            "y": {"field": "y", "type": "quantitative", "scale": {"domain": [-66, 199], "nice": false, "zero": false}, "axis": {"values": [-40, 0, 40, 80, 120, 160], "labelExpr": "''+datum.value", "title": "Deflection [mV]", "labelFontSize": 11, "labelPadding": 8, "titleFontSize": 10.8, "titlePadding": 15}},
            "fill": {"field": "m", "type": "nominal", "scale": {"domain": ["M1", "M2", "M3", "M4"], "range": ["#1f1fc0", "#f08a8a", "#3cb83c", "#7cc8c8"]}, "legend": null}}},
          {"data": {"values": [{"a": "dB-left"}]}, "mark": {"type": "point", "shape": "M1,0L-1,0M-1,0L-0.55,-0.22M-1,0L-0.55,0.22", "size": 380, "filled": false, "strokeWidth": 1.1, "color": "#1c1c6e", "opacity": 1}, "encoding": {
            "x": {"datum": 250, "type": "quantitative", "scale": {"domain": [0, 402], "nice": false, "zero": false}, "axis": {"values": [200], "title": "Z-Axis [nm]", "labelFontSize": 11.5, "labelPadding": 4, "titleFontSize": 10.5, "titlePadding": 6}},
            "y": {"datum": 171, "type": "quantitative", "scale": {"domain": [-66, 199], "nice": false, "zero": false}, "axis": {"values": [-40, 0, 40, 80, 120, 160], "labelExpr": "''+datum.value", "title": "Deflection [mV]", "labelFontSize": 11, "labelPadding": 8, "titleFontSize": 10.8, "titlePadding": 15}}}},
          {"data": {"values": [{"a": "dB-right"}]}, "mark": {"type": "point", "shape": "M-1,0L1,0M1,0L0.55,-0.22M1,0L0.55,0.22", "size": 380, "filled": false, "strokeWidth": 1.1, "color": "#e0282a", "opacity": 1}, "encoding": {
            "x": {"datum": 250, "type": "quantitative", "scale": {"domain": [0, 402], "nice": false, "zero": false}, "axis": {"values": [200], "title": "Z-Axis [nm]", "labelFontSize": 11.5, "labelPadding": 4, "titleFontSize": 10.5, "titlePadding": 6}},
            "y": {"datum": 155, "type": "quantitative", "scale": {"domain": [-66, 199], "nice": false, "zero": false}, "axis": {"values": [-40, 0, 40, 80, 120, 160], "labelExpr": "''+datum.value", "title": "Deflection [mV]", "labelFontSize": 11, "labelPadding": 8, "titleFontSize": 10.8, "titlePadding": 15}}}}
        ]
      },
      {
        "width": 268, "height": 154,
        "view": {"stroke": "transparent", "fill": "white"},
        "layer": [
          {"data": {"values": [{"box": "B"}]}, "mark": {"type": "rect", "fill": "#f2f2f2"}, "encoding": {
            "x": {"datum": -0.53, "type": "quantitative", "scale": {"domain": [-0.67, 37.6], "nice": false, "zero": false}, "axis": null},
            "x2": {"datum": 24},
            "y": {"datum": -0.53, "type": "quantitative", "scale": {"domain": [-1.28, 12.72], "nice": false, "zero": false, "reverse": true}, "axis": null},
            "y2": {"datum": 12.6}}},
          {"data": {"name": "tabB"}, "transform": [{"filter": "datum.kind!='head'"}], "mark": {"type": "text", "align": "left", "baseline": "middle", "font": "Liberation Mono", "fontSize": 11},
           "encoding": {"x": {"datum": 0, "type": "quantitative", "axis": null}, "y": {"field": "line", "type": "quantitative", "axis": null}, "text": {"field": "label"}, "color": {"field": "kind", "type": "nominal", "legend": null}}},
          {"data": {"name": "tabB"}, "transform": [{"filter": "datum.kind!='head' && datum.xv!=''"}], "mark": {"type": "text", "align": "right", "baseline": "middle", "font": "Liberation Mono", "fontSize": 11},
           "encoding": {"x": {"datum": 13, "type": "quantitative", "axis": null}, "y": {"field": "line", "type": "quantitative", "axis": null}, "text": {"field": "xv"}, "color": {"field": "kind", "type": "nominal", "legend": null}}},
          {"data": {"name": "tabB"}, "transform": [{"filter": "datum.kind!='head' && datum.yv!=''"}], "mark": {"type": "text", "align": "right", "baseline": "middle", "font": "Liberation Mono", "fontSize": 11},
           "encoding": {"x": {"datum": 20, "type": "quantitative", "axis": null}, "y": {"field": "line", "type": "quantitative", "axis": null}, "text": {"field": "yv"}, "color": {"field": "kind", "type": "nominal", "legend": null}}},
          {"data": {"name": "tabB"}, "transform": [{"filter": "datum.kind=='head'"}], "mark": {"type": "text", "align": "right", "baseline": "middle", "font": "Liberation Mono", "fontSize": 11},
           "encoding": {"x": {"datum": 11, "type": "quantitative", "axis": null}, "y": {"field": "line", "type": "quantitative", "axis": null}, "text": {"field": "xv"}, "color": {"field": "kind", "type": "nominal", "legend": null}}},
          {"data": {"name": "tabB"}, "transform": [{"filter": "datum.kind=='head'"}], "mark": {"type": "text", "align": "right", "baseline": "middle", "font": "Liberation Mono", "fontSize": 11},
           "encoding": {"x": {"datum": 18, "type": "quantitative", "axis": null}, "y": {"field": "line", "type": "quantitative", "axis": null}, "text": {"field": "yv"}, "color": {"field": "kind", "type": "nominal", "legend": null}}}
        ]
      },
      {
        "width": 259, "height": 131,
        "layer": [
          {"data": {"name": "forB"}, "transform": [{"filter": "datum.s!='r'"}], "mark": {"type": "line", "color": "#1c1c6e", "strokeWidth": 1.1, "clip": true}, "encoding": {
            "x": {"field": "x", "type": "quantitative", "scale": {"domain": [-47, 334], "nice": false, "zero": false}, "axis": {"values": [-40, 0, 40, 80, 120, 160, 200, 240, 280, 320], "labelExpr": "''+datum.value", "title": "Separation [nm]", "labelFontSize": 11.5, "labelPadding": 3, "titleFontSize": 12, "titlePadding": 5}},
            "y": {"field": "y", "type": "quantitative", "scale": {"domain": [-1.58, 0.6], "nice": false, "zero": false}, "axis": {"values": [-1.5, -1.25, -1, -0.75, -0.5, -0.25, 0, 0.25, 0.5], "labelExpr": "datum.value==0.5?'0.5':datum.value==0.25?'0.25':datum.value==0?'0.000':datum.value==-0.25?'-0.25':datum.value==-0.5?'-0.5':datum.value==-0.75?'-0.75':datum.value==-1?'-1.00':datum.value==-1.25?'-1.25':'-1.50'", "title": "Force [nN]", "labelFontSize": 10.5, "labelPadding": 7, "titleFontSize": 10.5, "titlePadding": 7}},
            "detail": {"field": "s"}, "order": {"value": null}}},
          {"data": {"name": "forB"}, "transform": [{"filter": "datum.s=='r'"}], "mark": {"type": "line", "color": "#e0282a", "strokeWidth": 1.1, "clip": true}, "encoding": {
            "x": {"field": "x", "type": "quantitative", "scale": {"domain": [-47, 334], "nice": false, "zero": false}, "axis": {"values": [-40, 0, 40, 80, 120, 160, 200, 240, 280, 320], "labelExpr": "''+datum.value", "title": "Separation [nm]", "labelFontSize": 11.5, "labelPadding": 3, "titleFontSize": 12, "titlePadding": 5}},
            "y": {"field": "y", "type": "quantitative", "scale": {"domain": [-1.58, 0.6], "nice": false, "zero": false}, "axis": {"values": [-1.5, -1.25, -1, -0.75, -0.5, -0.25, 0, 0.25, 0.5], "labelExpr": "datum.value==0.5?'0.5':datum.value==0.25?'0.25':datum.value==0?'0.000':datum.value==-0.25?'-0.25':datum.value==-0.5?'-0.5':datum.value==-0.75?'-0.75':datum.value==-1?'-1.00':datum.value==-1.25?'-1.25':'-1.50'", "title": "Force [nN]", "labelFontSize": 10.5, "labelPadding": 7, "titleFontSize": 10.5, "titlePadding": 7}},
            "order": {"value": null}}},
          {"data": {"values": [{"t": "Max Pull [nN]: 0.481 = Detach Force [nN]"}]}, "mark": {"type": "text", "align": "left", "baseline": "middle", "fontSize": 9, "color": "#333"}, "encoding": {
            "x": {"datum": 34.7, "type": "quantitative", "scale": {"domain": [-47, 334], "nice": false, "zero": false}, "axis": {"values": [-40, 0, 40, 80, 120, 160, 200, 240, 280, 320], "labelExpr": "''+datum.value", "title": "Separation [nm]", "labelFontSize": 11.5, "labelPadding": 3, "titleFontSize": 12, "titlePadding": 5}},
            "y": {"datum": 0.5, "type": "quantitative", "scale": {"domain": [-1.58, 0.6], "nice": false, "zero": false}, "axis": {"values": [-1.5, -1.25, -1, -0.75, -0.5, -0.25, 0, 0.25, 0.5], "labelExpr": "datum.value==0.5?'0.5':datum.value==0.25?'0.25':datum.value==0?'0.000':datum.value==-0.25?'-0.25':datum.value==-0.5?'-0.5':datum.value==-0.75?'-0.75':datum.value==-1?'-1.00':datum.value==-1.25?'-1.25':'-1.50'", "title": "Force [nN]", "labelFontSize": 10.5, "labelPadding": 7, "titleFontSize": 10.5, "titlePadding": 7}},
            "text": {"field": "t"}}},
          {"data": {"values": [{"t": "Snap In [nN]: 0.00202"}]}, "mark": {"type": "text", "align": "left", "baseline": "middle", "fontSize": 9, "color": "#333"}, "encoding": {
            "x": {"datum": -18.5, "type": "quantitative", "scale": {"domain": [-47, 334], "nice": false, "zero": false}, "axis": {"values": [-40, 0, 40, 80, 120, 160, 200, 240, 280, 320], "labelExpr": "''+datum.value", "title": "Separation [nm]", "labelFontSize": 11.5, "labelPadding": 3, "titleFontSize": 12, "titlePadding": 5}},
            "y": {"datum": 0.245, "type": "quantitative", "scale": {"domain": [-1.58, 0.6], "nice": false, "zero": false}, "axis": {"values": [-1.5, -1.25, -1, -0.75, -0.5, -0.25, 0, 0.25, 0.5], "labelExpr": "datum.value==0.5?'0.5':datum.value==0.25?'0.25':datum.value==0?'0.000':datum.value==-0.25?'-0.25':datum.value==-0.5?'-0.5':datum.value==-0.75?'-0.75':datum.value==-1?'-1.00':datum.value==-1.25?'-1.25':'-1.50'", "title": "Force [nN]", "labelFontSize": 10.5, "labelPadding": 7, "titleFontSize": 10.5, "titlePadding": 7}},
            "text": {"field": "t"}}},
          {"data": {"values": [{"t": "Young's Modulus [Pa]:"}]}, "mark": {"type": "text", "align": "left", "baseline": "middle", "fontSize": 10.5, "color": "#4a8a3a"}, "encoding": {
            "x": {"datum": -104, "type": "quantitative", "scale": {"domain": [-47, 334], "nice": false, "zero": false}, "axis": {"values": [-40, 0, 40, 80, 120, 160, 200, 240, 280, 320], "labelExpr": "''+datum.value", "title": "Separation [nm]", "labelFontSize": 11.5, "labelPadding": 3, "titleFontSize": 12, "titlePadding": 5}},
            "y": {"datum": -0.01, "type": "quantitative", "scale": {"domain": [-1.58, 0.6], "nice": false, "zero": false}, "axis": {"values": [-1.5, -1.25, -1, -0.75, -0.5, -0.25, 0, 0.25, 0.5], "labelExpr": "datum.value==0.5?'0.5':datum.value==0.25?'0.25':datum.value==0?'0.000':datum.value==-0.25?'-0.25':datum.value==-0.5?'-0.5':datum.value==-0.75?'-0.75':datum.value==-1?'-1.00':datum.value==-1.25?'-1.25':'-1.50'", "title": "Force [nN]", "labelFontSize": 10.5, "labelPadding": 7, "titleFontSize": 10.5, "titlePadding": 7}},
            "text": {"field": "t"}}},
          {"data": {"values": [{"t": "Max Load [nN]:\u00a0 1.50"}]}, "mark": {"type": "text", "align": "left", "baseline": "middle", "fontSize": 9, "color": "#333"}, "encoding": {
            "x": {"datum": -2, "type": "quantitative", "scale": {"domain": [-47, 334], "nice": false, "zero": false}, "axis": {"values": [-40, 0, 40, 80, 120, 160, 200, 240, 280, 320], "labelExpr": "''+datum.value", "title": "Separation [nm]", "labelFontSize": 11.5, "labelPadding": 3, "titleFontSize": 12, "titlePadding": 5}},
            "y": {"datum": -0.01, "type": "quantitative", "scale": {"domain": [-1.58, 0.6], "nice": false, "zero": false}, "axis": {"values": [-1.5, -1.25, -1, -0.75, -0.5, -0.25, 0, 0.25, 0.5], "labelExpr": "datum.value==0.5?'0.5':datum.value==0.25?'0.25':datum.value==0?'0.000':datum.value==-0.25?'-0.25':datum.value==-0.5?'-0.5':datum.value==-0.75?'-0.75':datum.value==-1?'-1.00':datum.value==-1.25?'-1.25':'-1.50'", "title": "Force [nN]", "labelFontSize": 10.5, "labelPadding": 7, "titleFontSize": 10.5, "titlePadding": 7}},
            "text": {"field": "t"}}},
          {"data": {"values": [{"t": "Detach Separation [nm]:\u00a0\u00a0\u00a0 197"}]}, "mark": {"type": "text", "align": "left", "baseline": "middle", "fontSize": 9, "color": "#333"}, "encoding": {
            "x": {"datum": 115, "type": "quantitative", "scale": {"domain": [-47, 334], "nice": false, "zero": false}, "axis": {"values": [-40, 0, 40, 80, 120, 160, 200, 240, 280, 320], "labelExpr": "''+datum.value", "title": "Separation [nm]", "labelFontSize": 11.5, "labelPadding": 3, "titleFontSize": 12, "titlePadding": 5}},
            "y": {"datum": -0.3, "type": "quantitative", "scale": {"domain": [-1.58, 0.6], "nice": false, "zero": false}, "axis": {"values": [-1.5, -1.25, -1, -0.75, -0.5, -0.25, 0, 0.25, 0.5], "labelExpr": "datum.value==0.5?'0.5':datum.value==0.25?'0.25':datum.value==0?'0.000':datum.value==-0.25?'-0.25':datum.value==-0.5?'-0.5':datum.value==-0.75?'-0.75':datum.value==-1?'-1.00':datum.value==-1.25?'-1.25':'-1.50'", "title": "Force [nN]", "labelFontSize": 10.5, "labelPadding": 7, "titleFontSize": 10.5, "titlePadding": 7}},
            "text": {"field": "t"}}},
          {"data": {"values": [{"t": "Energy [J]: -6.6E-17"}]}, "mark": {"type": "text", "align": "left", "baseline": "middle", "fontSize": 9, "color": "#333"}, "encoding": {
            "x": {"datum": 191, "type": "quantitative", "scale": {"domain": [-47, 334], "nice": false, "zero": false}, "axis": {"values": [-40, 0, 40, 80, 120, 160, 200, 240, 280, 320], "labelExpr": "''+datum.value", "title": "Separation [nm]", "labelFontSize": 11.5, "labelPadding": 3, "titleFontSize": 12, "titlePadding": 5}},
            "y": {"datum": -1.42, "type": "quantitative", "scale": {"domain": [-1.58, 0.6], "nice": false, "zero": false}, "axis": {"values": [-1.5, -1.25, -1, -0.75, -0.5, -0.25, 0, 0.25, 0.5], "labelExpr": "datum.value==0.5?'0.5':datum.value==0.25?'0.25':datum.value==0?'0.000':datum.value==-0.25?'-0.25':datum.value==-0.5?'-0.5':datum.value==-0.75?'-0.75':datum.value==-1?'-1.00':datum.value==-1.25?'-1.25':'-1.50'", "title": "Force [nN]", "labelFontSize": 10.5, "labelPadding": 7, "titleFontSize": 10.5, "titlePadding": 7}},
            "text": {"field": "t"}}},
          {"data": {"values": [{"a": "fB-left"}]}, "mark": {"type": "point", "shape": "M1,0L-1,0M-1,0L-0.55,-0.22M-1,0L-0.55,0.22", "size": 380, "filled": false, "strokeWidth": 1.1, "color": "#1c1c6e", "opacity": 1}, "encoding": {
            "x": {"datum": 301, "type": "quantitative", "scale": {"domain": [-47, 334], "nice": false, "zero": false}, "axis": {"values": [-40, 0, 40, 80, 120, 160, 200, 240, 280, 320], "labelExpr": "''+datum.value", "title": "Separation [nm]", "labelFontSize": 11.5, "labelPadding": 3, "titleFontSize": 12, "titlePadding": 5}},
            "y": {"datum": 0.405, "type": "quantitative", "scale": {"domain": [-1.58, 0.6], "nice": false, "zero": false}, "axis": {"values": [-1.5, -1.25, -1, -0.75, -0.5, -0.25, 0, 0.25, 0.5], "labelExpr": "datum.value==0.5?'0.5':datum.value==0.25?'0.25':datum.value==0?'0.000':datum.value==-0.25?'-0.25':datum.value==-0.5?'-0.5':datum.value==-0.75?'-0.75':datum.value==-1?'-1.00':datum.value==-1.25?'-1.25':'-1.50'", "title": "Force [nN]", "labelFontSize": 10.5, "labelPadding": 7, "titleFontSize": 10.5, "titlePadding": 7}}}},
          {"data": {"values": [{"a": "fB-right"}]}, "mark": {"type": "point", "shape": "M-1,0L1,0M1,0L0.55,-0.22M1,0L0.55,0.22", "size": 380, "filled": false, "strokeWidth": 1.1, "color": "#e0282a", "opacity": 1}, "encoding": {
            "x": {"datum": 301, "type": "quantitative", "scale": {"domain": [-47, 334], "nice": false, "zero": false}, "axis": {"values": [-40, 0, 40, 80, 120, 160, 200, 240, 280, 320], "labelExpr": "''+datum.value", "title": "Separation [nm]", "labelFontSize": 11.5, "labelPadding": 3, "titleFontSize": 12, "titlePadding": 5}},
            "y": {"datum": 0.267, "type": "quantitative", "scale": {"domain": [-1.58, 0.6], "nice": false, "zero": false}, "axis": {"values": [-1.5, -1.25, -1, -0.75, -0.5, -0.25, 0, 0.25, 0.5], "labelExpr": "datum.value==0.5?'0.5':datum.value==0.25?'0.25':datum.value==0?'0.000':datum.value==-0.25?'-0.25':datum.value==-0.5?'-0.5':datum.value==-0.75?'-0.75':datum.value==-1?'-1.00':datum.value==-1.25?'-1.25':'-1.50'", "title": "Force [nN]", "labelFontSize": 10.5, "labelPadding": 7, "titleFontSize": 10.5, "titlePadding": 7}}}}
        ]
      }
    ]
  }
]
}
